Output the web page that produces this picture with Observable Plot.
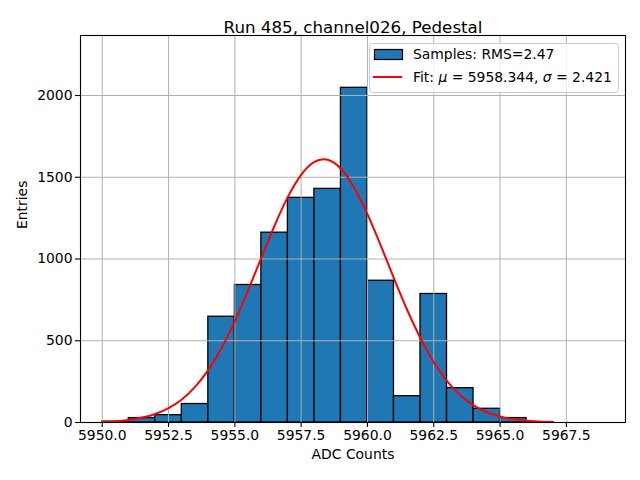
<!DOCTYPE html>
<html>
<head>
<meta charset="utf-8">
<script src="https://cdn.jsdelivr.net/npm/d3@7"></script>
<script src="https://cdn.jsdelivr.net/npm/@observablehq/plot@0.6"></script>
<style>
  body { margin: 0; background: white; }
  #wrap { position: relative; width: 640px; height: 480px; font-family: "DejaVu Sans", sans-serif; }
  #legend { position: absolute; left: 369px; top: 43px; }
</style>
</head>
<body>
<div id="wrap"></div>
<script>
// Histogram bins (left edges, width 1) and counts
const binStart = [5950, 5951, 5952, 5953, 5954, 5955, 5956, 5957, 5958, 5959, 5960, 5961, 5962, 5963, 5964, 5965, 5966, 5967];
const counts   = [5, 27, 45, 113, 647, 841, 1161, 1374, 1429, 2047, 867, 161, 786, 210, 84, 27, 3, 0];

// Fit curve points
const fitX = [5950, 5950.5, 5951, 5951.5, 5952, 5952.5, 5953, 5953.5, 5954, 5954.5, 5955, 5955.5, 5956, 5956.5, 5957, 5957.5, 5958, 5958.5, 5959, 5959.5, 5960, 5960.5, 5961, 5961.5, 5962, 5962.5, 5963, 5963.5, 5964, 5964.5, 5965, 5965.5, 5966, 5966.5, 5967];
const fitY = [4, 8, 16, 30, 52, 88, 141, 218, 322, 456, 620, 808, 1008, 1205, 1380, 1515, 1594, 1607, 1552, 1436, 1274, 1083, 882, 688, 515, 369, 253, 167, 105, 63, 37, 20, 11, 5, 3];

const xTicks = [5950, 5952.5, 5955, 5957.5, 5960, 5962.5, 5965, 5967.5];
const yTicks = [0, 500, 1000, 1500, 2000];

const titleText = "Run 485, channel026, Pedestal";
const xLabel = "ADC Counts";
const yLabel = "Entries";
const legendSamples = "Samples: RMS=2.47";

const bins = binStart.map((b, i) => ({x1: b, x2: b + 1, count: counts[i]}));
const fit = fitX.map((x, i) => ({x, y: fitY[i]}));

const chart = Plot.plot({
  width: 640,
  height: 480,
  marginLeft: 80,
  marginRight: 15,
  marginTop: 35,
  marginBottom: 58,
  style: {fontFamily: "DejaVu Sans", fontSize: "13.9px", background: "white", color: "black", overflow: "visible"},
  x: {domain: [5949.18, 5969.73]},
  y: {domain: [0, 2367]},
  marks: [
    Plot.rectY(bins, {x1: "x1", x2: "x2", y: "count", fill: "#1f77b4", stroke: "black", strokeWidth: 1.3}),
    Plot.gridX(xTicks, {stroke: "#b0b0b0", strokeOpacity: 1, strokeWidth: 1}),
    Plot.gridY(yTicks, {stroke: "#b0b0b0", strokeOpacity: 1, strokeWidth: 1}),
    Plot.line(fit, {x: "x", y: "y", stroke: "red", strokeWidth: 2, curve: "natural"}),
    Plot.axisX(xTicks, {tickSize: 5, tickPadding: 3, tickFormat: d => d.toFixed(1), label: null, fontSize: 13.9, strokeWidth: 1.1}),
    Plot.axisY(yTicks, {tickSize: 5, tickPadding: 3, tickFormat: d => String(d), label: null, fontSize: 13.9, strokeWidth: 1.1}),
    Plot.frame({stroke: "black", strokeWidth: 1.1}),
    Plot.text([titleText], {frameAnchor: "top", dy: -14, fontSize: 16.7, fill: "black"}),
    Plot.text([xLabel], {frameAnchor: "bottom", dy: 36, fontSize: 13.9, fill: "black"}),
    Plot.text([yLabel], {frameAnchor: "left", dx: -58, rotate: -90, fontSize: 13.9, fill: "black"})
  ]
});

const wrap = document.getElementById("wrap");
wrap.appendChild(chart);

// Legend overlay
const legend = document.createElement("div");
legend.id = "legend";
legend.innerHTML = `
<svg width="250" height="50" xmlns="http://www.w3.org/2000/svg" style="display:block">
  <rect x="0.5" y="0.5" width="249" height="49" rx="3" ry="3" fill="white" fill-opacity="0.8" stroke="#cccccc" stroke-width="1"/>
  <rect x="5.5" y="6.5" width="28" height="10" fill="#1f77b4" stroke="black" stroke-width="1.2"/>
  <text x="44" y="16" font-family="DejaVu Sans" font-size="13.9" fill="black">${legendSamples}</text>
  <line x1="4" y1="34" x2="33" y2="34" stroke="red" stroke-width="2"/>
  <text x="44" y="39" font-family="DejaVu Sans" font-size="13.9" fill="black">Fit: <tspan font-style="italic">μ</tspan> = 5958.344, <tspan font-style="italic">σ</tspan> = 2.421</text>
</svg>`;
wrap.appendChild(legend);
</script>
</body>
</html>
